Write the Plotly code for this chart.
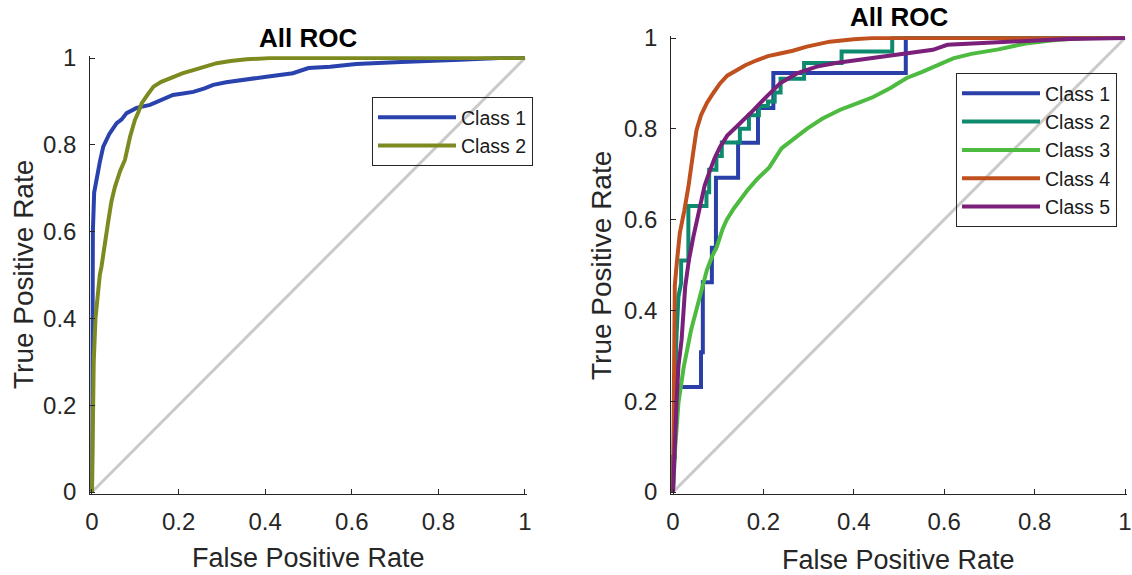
import plotly.graph_objects as go

W, H = 1132, 575

# ---------------- data ----------------
tick_vals = [0, 0.2, 0.4, 0.6, 0.8, 1]
tick_text = ["0", "0.2", "0.4", "0.6", "0.8", "1"]

# Left panel
L_c1_fpr = [0, 0.0, 0.002, 0.005, 0.01, 0.018, 0.026, 0.04, 0.057, 0.068, 0.08, 0.103, 0.134, 0.157,
            0.187, 0.21, 0.234, 0.26, 0.28, 0.31, 0.342, 0.403, 0.464, 0.5, 0.55, 0.61, 0.7, 0.776, 0.85,
            0.94, 1.0]
L_c1_tpr = [0, 0.3, 0.6, 0.69, 0.72, 0.76, 0.796, 0.825, 0.85, 0.858, 0.873, 0.885, 0.892, 0.903,
            0.915, 0.918, 0.922, 0.93, 0.938, 0.944, 0.949, 0.957, 0.965, 0.977, 0.98, 0.986, 0.99,
            0.994, 0.996, 1.0, 1.0]

L_c2_fpr = [0, 0.002, 0.004, 0.008, 0.013, 0.018, 0.022, 0.03, 0.038, 0.045, 0.053, 0.065, 0.076,
            0.088, 0.099, 0.107, 0.115, 0.128, 0.142, 0.16, 0.187, 0.21, 0.234, 0.26, 0.288, 0.32,
            0.357, 0.41, 0.6, 1.0]
L_c2_tpr = [0, 0.15, 0.3, 0.4, 0.46, 0.5, 0.52, 0.58, 0.627, 0.67, 0.703, 0.74, 0.765, 0.819,
            0.857, 0.875, 0.896, 0.915, 0.934, 0.945, 0.957, 0.965, 0.972, 0.98, 0.988, 0.993,
            0.997, 1.0, 1.0, 1.0]

# Right panel
R_c1_fpr = [0, 0, 0.004, 0.004, 0.008, 0.008, 0.062, 0.062, 0.066, 0.066, 0.086, 0.086, 0.095, 0.095,
            0.144, 0.144, 0.188, 0.188, 0.222, 0.222, 0.515, 0.515, 1.0]
R_c1_tpr = [0, 0.077, 0.077, 0.154, 0.154, 0.231, 0.231, 0.308, 0.308, 0.462, 0.462, 0.538, 0.538,
            0.692, 0.692, 0.769, 0.769, 0.846, 0.846, 0.923, 0.923, 1.0, 1.0]

R_c2_fpr = [0, 0.003, 0.008, 0.012, 0.018, 0.018, 0.034, 0.034, 0.074, 0.074, 0.08, 0.08, 0.096,
            0.096, 0.108, 0.108, 0.148, 0.148, 0.168, 0.168, 0.19, 0.19, 0.21, 0.21, 0.225, 0.225,
            0.238, 0.238, 0.29, 0.29, 0.373, 0.373, 0.485, 0.485, 1.0]
R_c2_tpr = [0, 0.2, 0.35, 0.43, 0.46, 0.51, 0.51, 0.63, 0.63, 0.66, 0.66, 0.71, 0.71, 0.74, 0.74,
            0.77, 0.77, 0.80, 0.80, 0.83, 0.83, 0.85, 0.85, 0.86, 0.86, 0.88, 0.88, 0.91, 0.91,
            0.945, 0.945, 0.97, 0.97, 1.0, 1.0]

R_c3_fpr = [0, 0.002, 0.005, 0.012, 0.024, 0.04, 0.056, 0.068, 0.075, 0.087, 0.097, 0.11, 0.119,
            0.135, 0.148, 0.165, 0.187, 0.213, 0.24, 0.27, 0.296, 0.33, 0.37, 0.41, 0.443, 0.481,
            0.517, 0.55, 0.584, 0.62, 0.66, 0.72, 0.78, 0.85, 0.92, 1.0]
R_c3_tpr = [0, 0.05, 0.1, 0.196, 0.277, 0.357, 0.416, 0.46, 0.489, 0.52, 0.54, 0.58, 0.6, 0.625,
            0.643, 0.665, 0.69, 0.715, 0.757, 0.78, 0.8, 0.822, 0.842, 0.857, 0.87, 0.89, 0.912,
            0.925, 0.94, 0.955, 0.965, 0.975, 0.988, 0.996, 1.0, 1.0]

R_c4_fpr = [0, 0.001, 0.003, 0.004, 0.008, 0.015, 0.025, 0.034, 0.045, 0.052, 0.062, 0.075, 0.09,
            0.104, 0.12, 0.141, 0.16, 0.185, 0.21, 0.237, 0.265, 0.296, 0.347, 0.4, 0.44, 1.0]
R_c4_tpr = [0, 0.2, 0.3, 0.455, 0.5, 0.57, 0.62, 0.672, 0.75, 0.797, 0.83, 0.857, 0.88, 0.90,
            0.917, 0.93, 0.94, 0.951, 0.96, 0.966, 0.972, 0.981, 0.992, 0.997, 1.0, 1.0]

R_c5_fpr = [0, 0.003, 0.008, 0.012, 0.019, 0.027, 0.035, 0.045, 0.06, 0.07, 0.082, 0.092, 0.104,
            0.12, 0.141, 0.16, 0.178, 0.207, 0.237, 0.274, 0.318, 0.36, 0.406, 0.45, 0.502, 0.575,
            0.607, 0.717, 0.8, 0.875, 1.0]
R_c5_tpr = [0, 0.1, 0.2, 0.277, 0.335, 0.452, 0.51, 0.562, 0.636, 0.675, 0.709, 0.735, 0.76,
            0.785, 0.805, 0.823, 0.841, 0.871, 0.90, 0.922, 0.937, 0.945, 0.951, 0.957, 0.963,
            0.974, 0.985, 0.99, 0.995, 0.998, 1.0]

diag = [0, 1]
left_names = ["Class 1", "Class 2"]
right_names = ["Class 1", "Class 2", "Class 3", "Class 4", "Class 5"]
title_text = "All ROC"
xlabel = "False Positive Rate"
ylabel = "True Positive Rate"

# ---------------- styling ----------------
FONT = "Liberation Sans, Arial, sans-serif"
AX = "#262626"
left_colors = ["#2A42AE", "#7D8A20"]
right_colors = ["#2A3FA8", "#0E8A6E", "#4DBB3F", "#C0501E", "#7A1F7A"]
LW = 4
PAD = 0.004


def xdom(p0, p1):
    span = p1 - p0
    return [(p0 - PAD * span) / W, (p1 + PAD * span) / W]


def ydom(ptop, pbot):
    span = pbot - ptop
    return [(H - pbot - PAD * span) / H, (H - ptop + PAD * span) / H]


fig = go.Figure()

# left panel
fig.add_trace(go.Scatter(x=diag, y=diag, mode="lines", line=dict(color="#CACACA", width=3),
                         showlegend=False, xaxis="x", yaxis="y", hoverinfo="skip"))
for fx, ty, nm, col in zip([L_c1_fpr, L_c2_fpr], [L_c1_tpr, L_c2_tpr], left_names, left_colors):
    fig.add_trace(go.Scatter(x=fx, y=ty, mode="lines", name=nm, line=dict(color=col, width=LW),
                             xaxis="x", yaxis="y", legend="legend"))

# right panel
fig.add_trace(go.Scatter(x=diag, y=diag, mode="lines", line=dict(color="#CACACA", width=3),
                         showlegend=False, xaxis="x2", yaxis="y2", hoverinfo="skip"))
for fx, ty, nm, col in zip([R_c1_fpr, R_c2_fpr, R_c3_fpr, R_c4_fpr, R_c5_fpr],
                           [R_c1_tpr, R_c2_tpr, R_c3_tpr, R_c4_tpr, R_c5_tpr],
                           right_names, right_colors):
    fig.add_trace(go.Scatter(x=fx, y=ty, mode="lines", name=nm, line=dict(color=col, width=LW),
                             xaxis="x2", yaxis="y2", legend="legend2"))

axis_common = dict(range=[-PAD, 1 + PAD], showgrid=False, zeroline=False, showline=True,
                   linecolor=AX, linewidth=1, ticks="inside", ticklen=5, tickcolor=AX,
                   tickvals=tick_vals, ticktext=tick_text, automargin=False,
                   tickfont=dict(family=FONT, size=24, color=AX), fixedrange=True)

legend_common = dict(xanchor="left", yanchor="top", bgcolor="rgba(0,0,0,0)", bordercolor=AX,
                     borderwidth=1, font=dict(family=FONT, size=19.5, color="#1a1a1a"),
                     itemwidth=78, tracegroupgap=0)

fig.update_layout(
    template="none",
    width=W, height=H, margin=dict(l=0, r=0, t=0, b=0, pad=0, autoexpand=False),
    paper_bgcolor="white", plot_bgcolor="white",
    xaxis=dict(domain=xdom(92, 525), anchor="y", ticklabelstandoff=6, **axis_common),
    yaxis=dict(domain=ydom(58, 492), anchor="x", ticklabelstandoff=8, **axis_common),
    xaxis2=dict(domain=xdom(673, 1125), anchor="y2", ticklabelstandoff=6, **axis_common),
    yaxis2=dict(domain=ydom(38, 492), anchor="x2", ticklabelstandoff=8, **axis_common),
    legend=dict(x=372 / W, y=1 - 97 / H, **legend_common),
    legend2=dict(x=956 / W, y=1 - 73 / H, **legend_common),
    showlegend=True,
)

ann = []
for cx, cy in [(308, 38), (899, 17)]:
    ann.append(dict(text="<b>" + title_text + "</b>", x=cx / W, y=1 - cy / H, xref="paper",
                    yref="paper", showarrow=False, xanchor="center", yanchor="middle",
                    font=dict(family=FONT, size=26, color="black")))
for cx, cy in [(308, 558), (898, 560)]:
    ann.append(dict(text=xlabel, x=cx / W, y=1 - cy / H, xref="paper", yref="paper",
                    showarrow=False, xanchor="center", yanchor="middle",
                    font=dict(family=FONT, size=27, color=AX)))
for cx, cy in [(23, 275), (601, 266)]:
    ann.append(dict(text=ylabel, x=cx / W, y=1 - cy / H, xref="paper", yref="paper",
                    showarrow=False, xanchor="center", yanchor="middle", textangle=-90,
                    font=dict(family=FONT, size=28, color=AX)))
fig.update_layout(annotations=ann)

fig.write_html("out.html", config={"displayModeBar": False},
               post_script="document.body.style.margin='0';document.body.style.overflow='hidden';")
